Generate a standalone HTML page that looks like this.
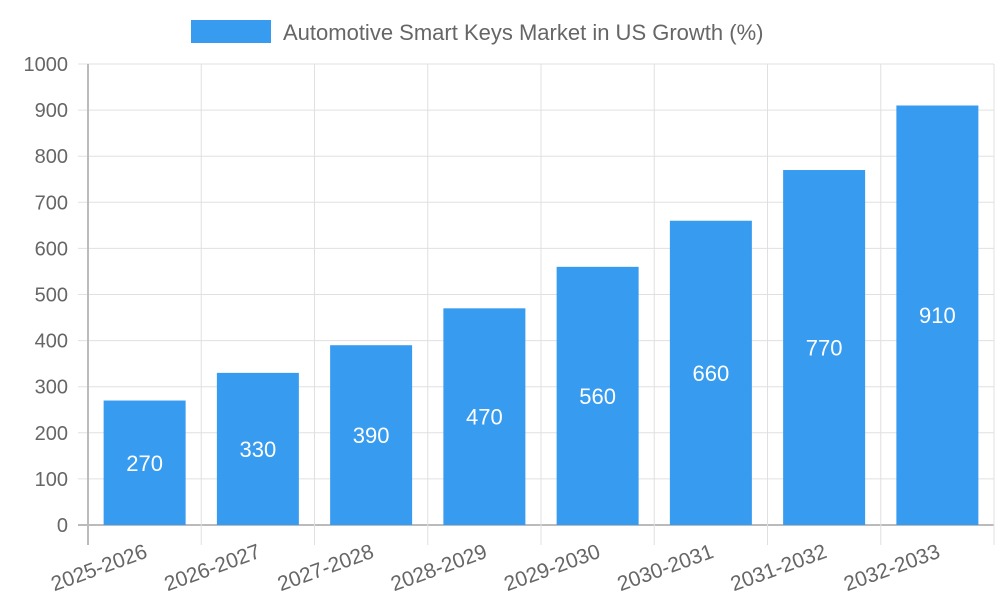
<!DOCTYPE html>
<html><head><meta charset="utf-8"><style>
html,body{margin:0;padding:0;background:#fff;width:1000px;height:600px;overflow:hidden}
svg text{font-family:"Liberation Sans",sans-serif}
</style></head><body>
<svg id="chart" width="1000" height="600" xmlns="http://www.w3.org/2000/svg">
<g>
<rect x="191" y="20" width="80" height="23" fill="#379bf0"/>
<text x="283" y="40" font-size="22" fill="#666">Automotive Smart Keys Market in US Growth (%)</text>
</g>
<g id="grid"></g><g id="bars"></g><g id="labels"></g>
</svg>
<script>
const categories=["2025-2026","2026-2027","2027-2028","2028-2029","2029-2030","2030-2031","2031-2032","2032-2033"];
const values=[270,330,390,470,560,660,770,910];
const yTicks=[0,100,200,300,400,500,600,700,800,900,1000];
const NS="http://www.w3.org/2000/svg";
const L=88,R=994,T=64,B=525,yMax=1000;
const y=v=>B-(v/yMax)*(B-T);
const bw=(R-L)/categories.length;
const xc=i=>L+bw*(i+0.5);
function mk(tag,attrs,parent,txt){const e=document.createElementNS(NS,tag);for(const k in attrs)e.setAttribute(k,attrs[k]);if(txt!==undefined)e.textContent=txt;parent.appendChild(e);return e;}
const grid=document.getElementById('grid'),bars=document.getElementById('bars'),labels=document.getElementById('labels');
yTicks.forEach(t=>{
 const g=mk('line',{x1:L-10,x2:R,y1:y(t),y2:y(t),stroke:t===0?'#bbb':'#e0e0e0','stroke-width':t===0?2:1},grid);
 
 
 const tx=mk('text',{x:L-20,y:y(t)+7,'text-anchor':'end','font-size':20,fill:'#666'},labels,String(t));
 
 
});
for(let i=0;i<=categories.length;i++){
 const x=L+bw*i;
 const g=mk('line',{x1:x,x2:x,y1:T,y2:B+20,stroke:i===0?'#bbb':'#e0e0e0','stroke-width':i===0?2:1},grid);
 
 
}
categories.forEach((c,i)=>{
 const w=82;
 const r=mk('rect',{x:xc(i)-w/2,y:y(values[i]),width:w,height:B-y(values[i]),fill:'#379bf0'},bars);
 
 
 const v=mk('text',{x:xc(i),y:(y(values[i])+B)/2+8,'text-anchor':'middle','font-size':22,fill:'#fff'},labels,String(values[i]));
 
 
 const xl=mk('text',{x:0,y:0,'text-anchor':'end','font-size':21,fill:'#666',transform:`translate(${xc(i)+4},${B+32}) rotate(-20)`},labels,c);
 
 
});
</script>
</body></html>
